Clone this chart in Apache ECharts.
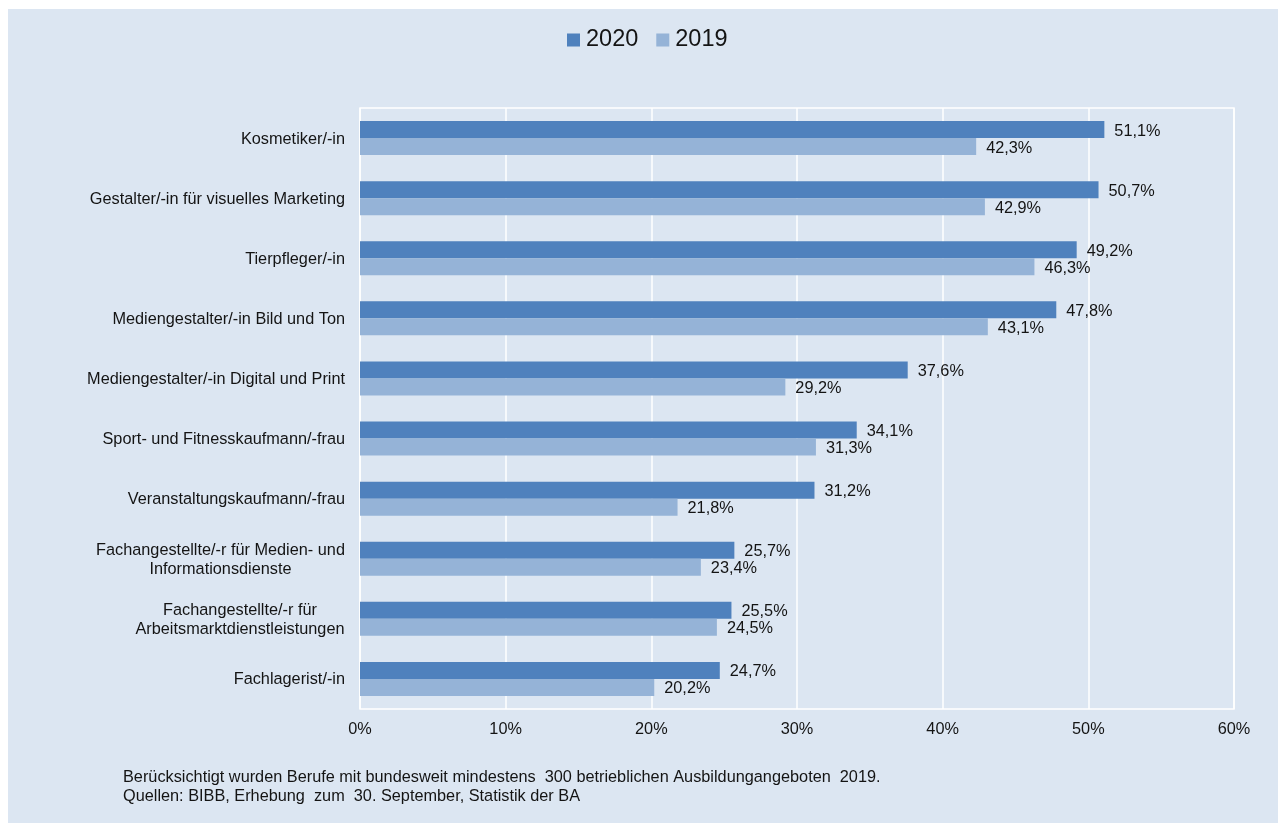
<!DOCTYPE html>
<html>
<head>
<meta charset="utf-8">
<script src="https://cdn.jsdelivr.net/npm/echarts@6/dist/echarts.min.js"></script>
<style>
html,body{margin:0;padding:0;background:#fff;}
#chart{width:1278px;height:823px;}
</style>
</head>
<body>
<div id="chart"></div>
<script>
var categories = [
  "Kosmetiker/-in",
  "Gestalter/-in für visuelles Marketing",
  "Tierpfleger/-in",
  "Mediengestalter/-in Bild und Ton",
  "Mediengestalter/-in Digital und Print",
  "Sport- und Fitnesskaufmann/-frau",
  "Veranstaltungskaufmann/-frau",
  "Fachangestellte/-r für Medien- und\nInformationsdienste",
  "Fachangestellte/-r für\nArbeitsmarktdienstleistungen",
  "Fachlagerist/-in"
];
var values2020 = [51.1, 50.7, 49.2, 47.8, 37.6, 34.1, 31.2, 25.7, 25.5, 24.7];
var values2019 = [42.3, 42.9, 46.3, 43.1, 29.2, 31.3, 21.8, 23.4, 24.5, 20.2];
var seriesNames = ["2020", "2019"];
var xTicks = [0, 10, 20, 30, 40, 50, 60];
var footnote = [
  "Berücksichtigt wurden Berufe mit bundesweit mindestens  300 betrieblichen Ausbildungangeboten  2019.",
  "Quellen: BIBB, Erhebung  zum  30. September, Statistik der BA"
];

var FONT = "'Liberation Sans', Arial, sans-serif";
var FS = 16.3;
var TXT = "#141414";

// measure widths for centered multi-line labels
var cnv = document.createElement('canvas').getContext('2d');
cnv.font = FS + "px " + FONT;
var rich = {};
categories.forEach(function (c, i) {
  var lines = c.split('\n');
  if (lines.length > 1) {
    var w = 0;
    lines.forEach(function (l) { w = Math.max(w, cnv.measureText(l).width); });
    rich['c' + i] = { width: Math.ceil(w), align: 'center', fontSize: FS, fontFamily: FONT, color: TXT, lineHeight: 19 };
  }
});

function fmt(v) { return v.toFixed(1).replace('.', ',') + '%'; }

var chart = echarts.init(document.getElementById('chart'), null, { renderer: 'canvas' });
chart.setOption({
  backgroundColor: '#ffffff',
  animation: false,
  graphic: [
    { type: 'rect', z: -10, shape: { x: 8, y: 9, width: 1270, height: 814 }, style: { fill: '#dce6f2' } },
    { type: 'text', left: 123, top: 768, style: { text: footnote.join('\n'), font: FS + "px " + FONT, fill: TXT, lineHeight: 19 } }
  ],
  legend: {
    top: 23,
    left: 562,
    itemWidth: 13,
    itemHeight: 13,
    itemGap: 18,
    icon: 'rect',
    textStyle: { fontSize: 23.5, fontFamily: FONT, color: TXT, padding: [0, 0, 0, 1] },
    data: seriesNames
  },
  grid: {
    left: 360, right: 44, top: 108, bottom: 114,
    show: true, borderColor: '#ffffff', borderWidth: 1.5, backgroundColor: 'transparent'
  },
  xAxis: {
    type: 'value',
    min: 0, max: 60, interval: 10,
    axisLine: { show: false },
    axisTick: { show: false },
    splitLine: { lineStyle: { color: '#ffffff', width: 1.5 } },
    axisLabel: { margin: 13, fontSize: FS, fontFamily: FONT, color: TXT, formatter: function (v) { return v + '%'; } }
  },
  yAxis: {
    type: 'category',
    inverse: true,
    data: categories,
    axisLine: { show: false },
    axisTick: { show: false },
    axisLabel: {
      margin: 15,
      fontSize: FS,
      fontFamily: FONT,
      color: TXT,
      lineHeight: 19,
      padding: [2, 0, 0, 0],
      rich: rich,
      formatter: function (v, i) {
        var lines = v.split('\n');
        if (lines.length > 1) {
          return lines.map(function (l) { return '{c' + i + '|' + l + '}'; }).join('\n');
        }
        return v;
      }
    }
  },
  series: [
    {
      name: seriesNames[0], type: 'bar', data: values2020, barWidth: 17, barGap: '0%',
      itemStyle: { color: '#4f81bd' },
      label: { show: true, position: 'right', distance: 10, offset: [0, 1.5], fontSize: FS, fontFamily: FONT, color: TXT, formatter: function (p) { return fmt(p.value); } }
    },
    {
      name: seriesNames[1], type: 'bar', data: values2019, barWidth: 17, barGap: '0%',
      itemStyle: { color: '#95b3d7' },
      label: { show: true, position: 'right', distance: 10, offset: [0, 1.5], fontSize: FS, fontFamily: FONT, color: TXT, formatter: function (p) { return fmt(p.value); } }
    }
  ]
});
</script>
</body>
</html>
